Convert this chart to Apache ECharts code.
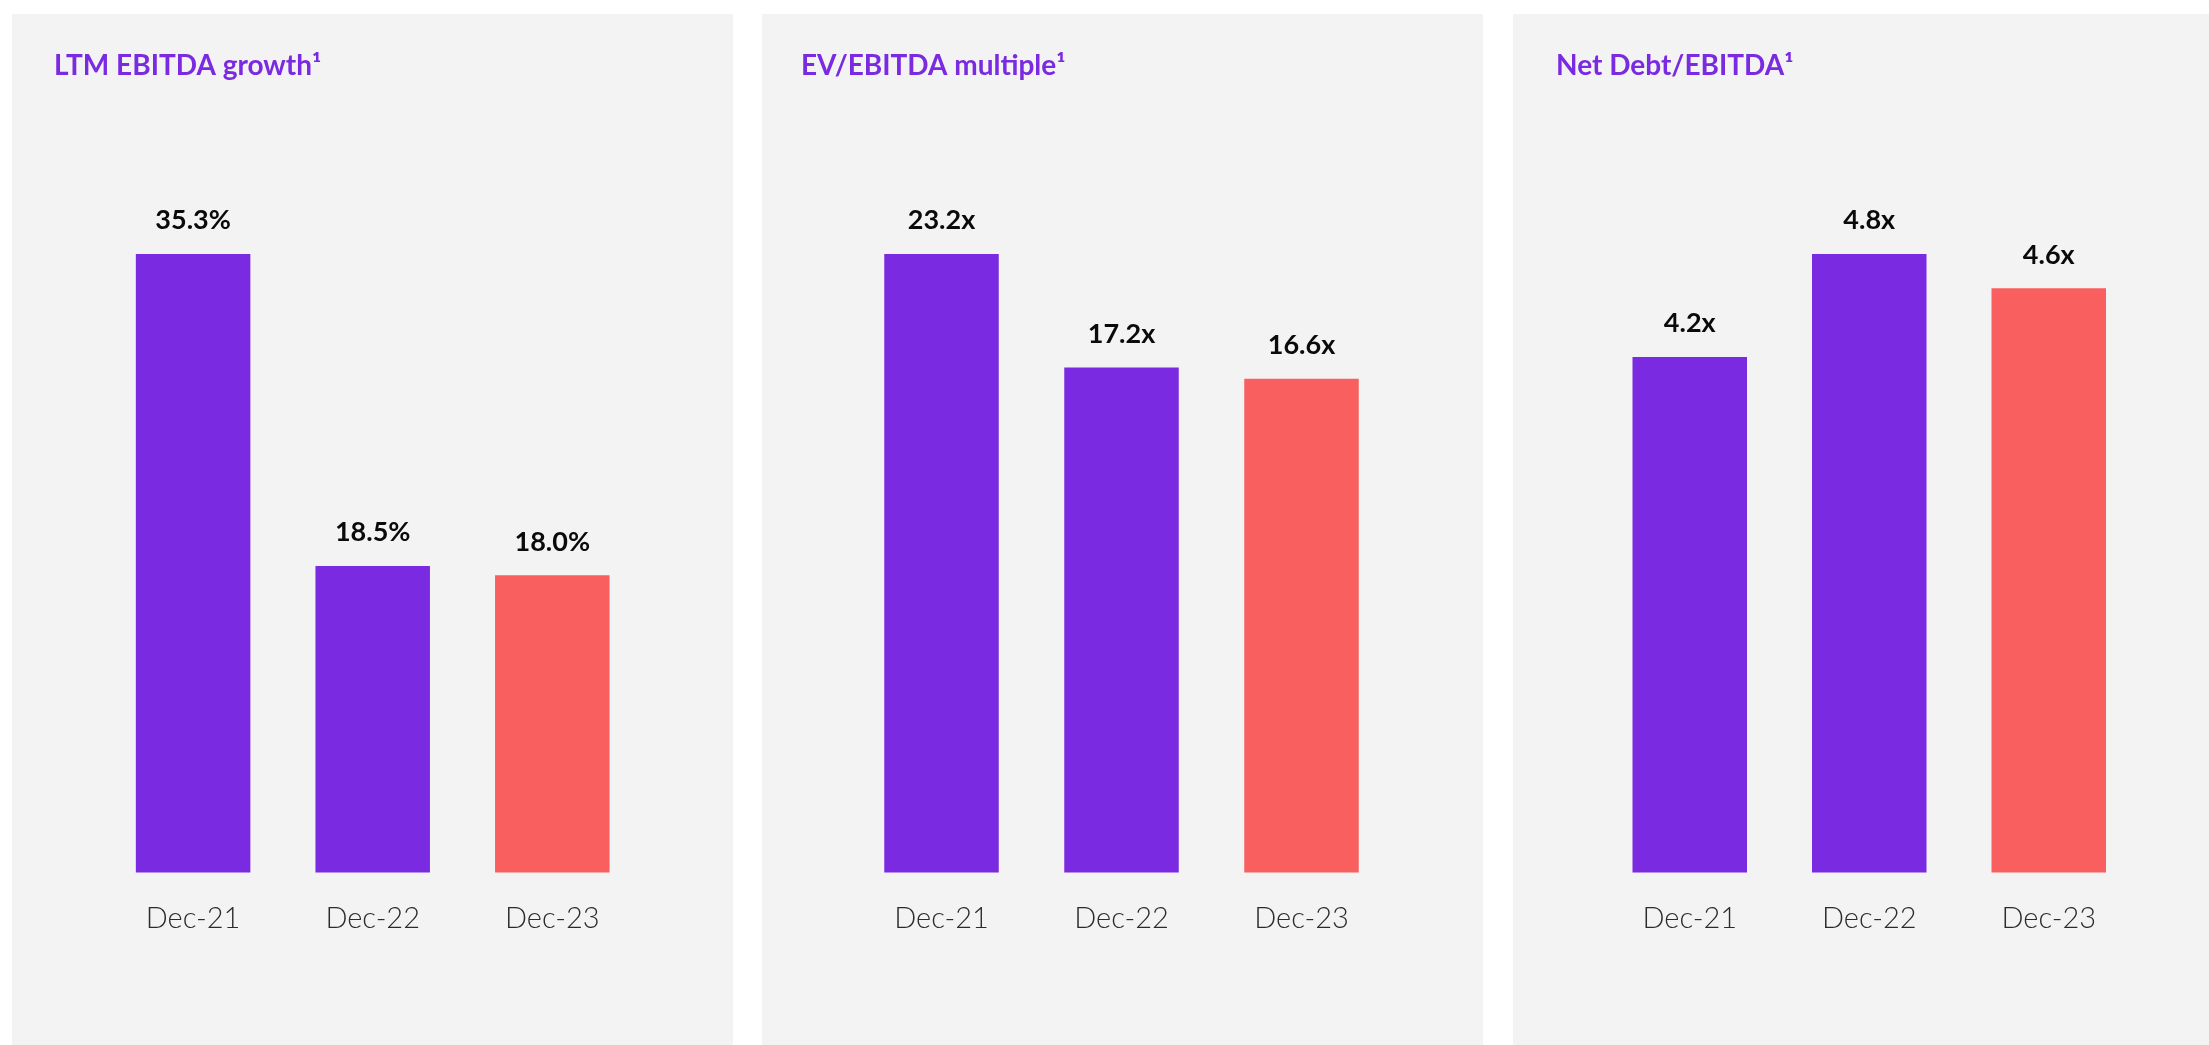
<!DOCTYPE html>
<html>
<head>
<meta charset="utf-8">
<script src="https://cdn.jsdelivr.net/npm/echarts@6/dist/echarts.min.js"></script>
<style>
html,body{margin:0;padding:0;background:#ffffff;}
#chart{width:2209px;height:1045px;}
</style>
</head>
<body>
<div id="chart"></div>
<script>
// ---- data ----
const categories = ['Dec-21', 'Dec-22', 'Dec-23'];
const panelTitles = ['LTM EBITDA growth\u00B9', 'EV/EBITDA multiple\u00B9', 'Net Debt/EBITDA\u00B9'];
const ebitdaGrowth = [35.3, 18.5, 18.0];
const evEbitdaMultiple = [23.2, 17.2, 16.6];
const netDebtEbitda = [4.2, 4.8, 4.6];
const valueSuffixes = ['%', 'x', 'x'];

// ---- layout / style ----
const PURPLE = '#7A2AE1';
const CORAL = '#F95F5F';
const barColors = [PURPLE, PURPLE, CORAL];
const panelLefts = [12, 762, 1513];
const panelWidths = [721, 721, 760];
const gridLefts = [103.3, 851.5, 1600];
const gridWidths = [538.8, 540, 538.5];
const axisMins = [2, -9.5, 1.2];
const seriesData = [ebitdaGrowth, evEbitdaMultiple, netDebtEbitda];
const titleLefts = [49, 796, 1551];

const chart = echarts.init(document.getElementById('chart'), null, {renderer: 'canvas'});

const grids = [], xAxes = [], yAxes = [], series = [], titles = [], graphics = [];
for (let i = 0; i < 3; i++) {
  graphics.push({
    type: 'rect', z: -10, silent: true,
    shape: {x: panelLefts[i], y: 14, width: panelWidths[i], height: 1045},
    style: {fill: '#F3F3F3'}
  });
  titles.push({
    text: panelTitles[i],
    left: titleLefts[i], top: 47,
    textStyle: {fontFamily: 'Lato', fontWeight: 'bold', fontSize: 28, color: PURPLE}
  });
  grids.push({left: gridLefts[i], width: gridWidths[i], top: 254, height: 618.5, containLabel: false});
  xAxes.push({
    type: 'category', gridIndex: i, data: categories,
    axisLine: {show: false}, axisTick: {show: false}, splitLine: {show: false},
    axisLabel: {margin: 32, fontFamily: 'Lato', fontWeight: 300, fontSize: 29, color: '#2b2b2b'}
  });
  yAxes.push({
    type: 'value', gridIndex: i, min: axisMins[i], max: 'dataMax', startValue: axisMins[i],
    show: false, splitLine: {show: false}
  });
  const suffix = valueSuffixes[i];
  series.push({
    type: 'bar', xAxisIndex: i, yAxisIndex: i,
    barWidth: 114.5,
    data: seriesData[i].map((v, j) => ({value: v, itemStyle: {color: barColors[j]}})),
    label: {
      show: true, position: 'top', distance: 20,
      fontFamily: 'Lato', fontWeight: 'bold', fontSize: 27, color: '#0a0a0a',
      formatter: p => p.value.toFixed(1) + suffix
    },
    emphasis: {disabled: true},
    animation: false
  });
}

chart.setOption({
  backgroundColor: '#ffffff',
  animation: false,
  title: titles,
  grid: grids,
  xAxis: xAxes,
  yAxis: yAxes,
  series: series,
  graphic: graphics
});
</script>
</body>
</html>
